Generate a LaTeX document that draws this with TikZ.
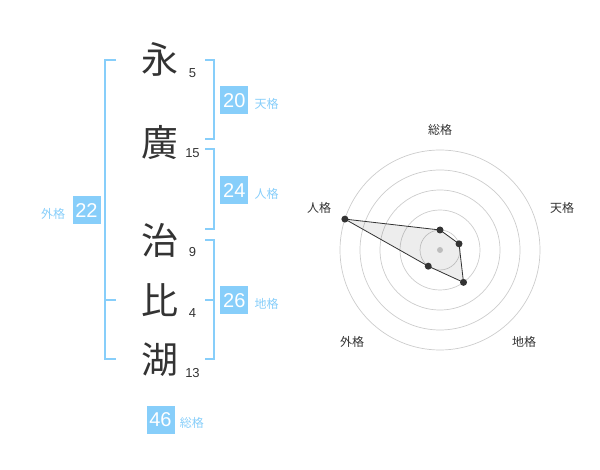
\documentclass[tikz,border=0pt]{standalone}
\usepackage{fontspec}
\setmainfont{Liberation Sans}
\newfontfamily\jpfont{Noto Sans CJK JP}
\usetikzlibrary{positioning}
\definecolor{kakublue}{HTML}{87CEFA}
\definecolor{moji}{HTML}{333333}
\definecolor{ring}{HTML}{CCCCCC}
\tikzset{
	bracket/.style={draw=kakublue, line width=2pt},
	kanji/.style={font=\jpfont\fontsize{37}{37}\selectfont, text=moji, inner sep=0pt},
	strokes/.style={font=\fontsize{13}{13}\selectfont, text=moji, inner sep=0pt},
	score/.style={fill=kakublue, text=white, minimum size=28pt, inner sep=0pt, font=\fontsize{20}{20}\selectfont},
	kaku/.style={font=\jpfont\fontsize{12}{12}\selectfont, text=kakublue, inner sep=0pt},
	axislabel/.style={font=\jpfont\fontsize{12}{12}\selectfont, text=moji, inner sep=0pt},
	ringline/.style={draw=ring, line width=0.7pt},
	dot/.style={circle, fill=moji, minimum size=7pt, inner sep=0pt},
}

\begin{document}
\begin{tikzpicture}[x=1pt, y=-1pt]
		\useasboundingbox (0,0) rectangle (600,470);
		% name and strokes
		\node[kanji] (c1) at (160,59) {永};
		\node[kanji] (c2) at (160,142) {廣};
		\node[kanji] (c3) at (160,240) {治};
		\node[kanji] (c4) at (160,300) {比};
		\node[kanji] (c5) at (160,360) {湖};
		\node[strokes] (n1) at (192.5,73) {5};
		\node[strokes] (n2) at (192.5,153) {15};
		\node[strokes] (n3) at (192.5,252.5) {9};
		\node[strokes] (n4) at (192.5,313.5) {4};
		\node[strokes] (n5) at (192.5,373) {13};
		% brackets
		\draw[bracket] (116,60) -- (105,60) -- (105,359) -- (116,359);
		\draw[bracket] (105,300) -- (116,300);
		\draw[bracket] (205,60) -- (214,60) -- (214,139) -- (205,139);
		\draw[bracket] (205,149) -- (214,149) -- (214,229) -- (205,229);
		\draw[bracket] (205,240) -- (214,240) -- (214,359) -- (205,359);
		\draw[bracket] (205,300) -- (214,300);
		% scores
		\node[score] (ten) at (234.3,100.2) {20};
		\node[score] (jin) at (234.3,190.5) {24};
		\node[score] (chi) at (234.3,300.5) {26};
		\node[score] (gai) at (86.5,210.5) {22};
		\node[score] (sou) at (160.5,419.5) {46};
		\node[kaku, right=6pt of ten, yshift=-3.5pt] (tenl) {天格};
		\node[kaku, right=6pt of jin, yshift=-3.5pt] (jinl) {人格};
		\node[kaku, right=6pt of chi, yshift=-3.5pt] (chil) {地格};
		\node[kaku, left=7pt of gai, yshift=-3.5pt] (gail) {外格};
		\node[kaku, right=5pt of sou, yshift=-3.5pt] (soul) {総格};
		% radar
		\begin{scope}[shift={(440,250)}, y=1pt]
			\draw[ringline] (0,0) circle (20pt);
			\draw[ringline] (0,0) circle (40pt);
			\draw[ringline] (0,0) circle (60pt);
			\draw[ringline] (0,0) circle (80pt);
			\draw[ringline] (0,0) circle (100pt);
			\fill[ring] (0,0) circle (3pt);
			\coordinate (r1) at (90:20);
			\coordinate (r2) at (18:20);
			\coordinate (r3) at (-54:40);
			\coordinate (r4) at (-126:20);
			\coordinate (r5) at (162:100);
			\draw[moji, line width=0.8pt, fill=black, fill opacity=0.07] (r1) -- (r2) -- (r3) -- (r4) -- (r5) -- cycle;
			\node[dot] (d1) at (r1) {};
			\node[dot] (d2) at (r2) {};
			\node[dot] (d3) at (r3) {};
			\node[dot] (d4) at (r4) {};
			\node[dot] (d5) at (r5) {};
			\node[axislabel] (a1) at (0,120) {総格};
			\node[axislabel] (a2) at (122,42) {天格};
			\node[axislabel] (a3) at (84,-92) {地格};
			\node[axislabel] (a4) at (-88,-92) {外格};
			\node[axislabel] (a5) at (-121,42) {人格};
		\end{scope}
	\end{tikzpicture}
\end{document}
